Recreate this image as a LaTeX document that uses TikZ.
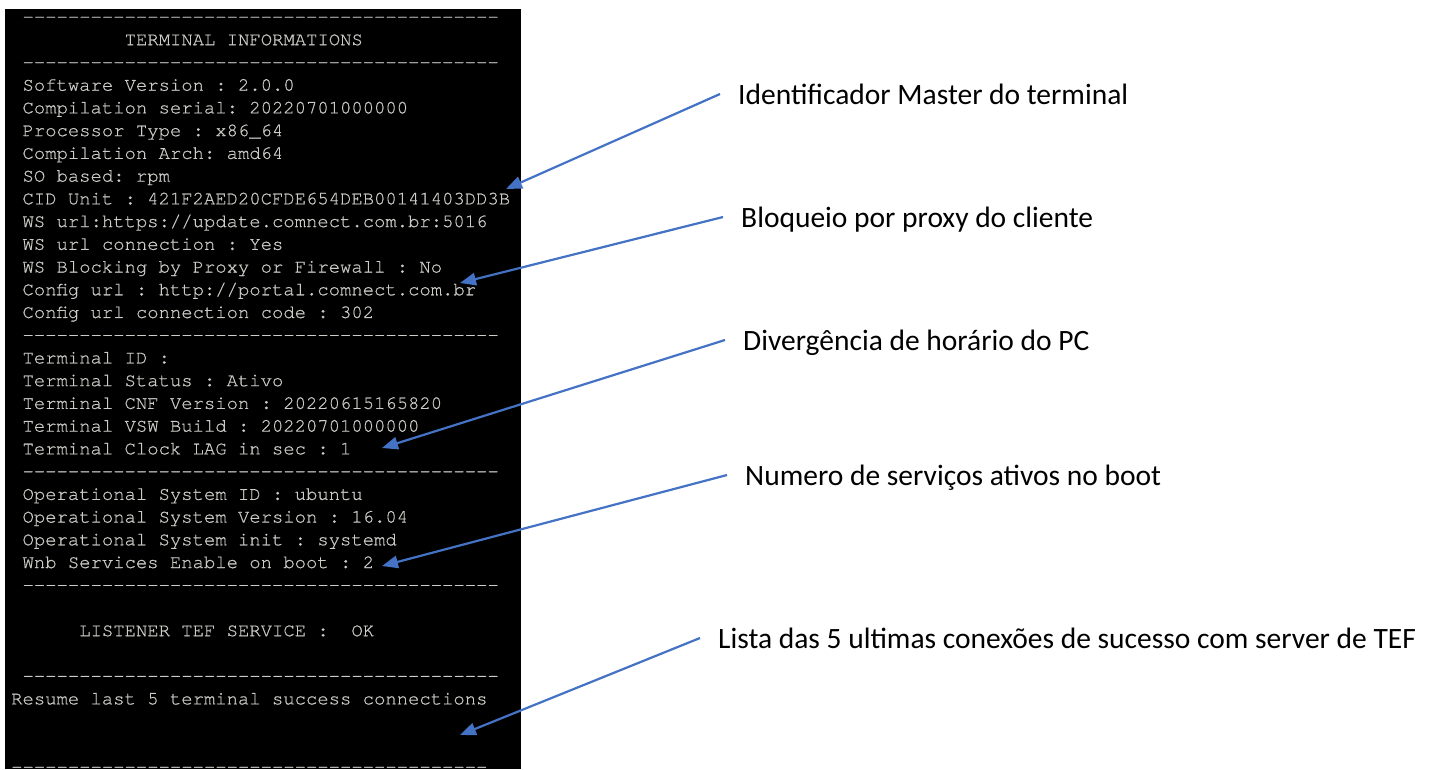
\documentclass[tikz,border=0pt]{standalone}
\usepackage{fontspec}
\setmainfont{Carlito}
\setmonofont{TeX Gyre Cursor}[FakeBold=0.6]
\usetikzlibrary{arrows.meta}

\tikzset{
  term/.style={anchor=base west, inner sep=0pt, text={rgb,255:red,205;green,205;blue,200}, font=\ttfamily\frenchspacing\fontsize{18.9}{22}\selectfont},
  lbl/.style={anchor=west, inner xsep=18pt, inner ysep=0pt, text height=20pt, text depth=0pt, font=\fontsize{29.5}{34}\selectfont},
  callout/.style={draw={rgb,255:red,68;green,114;blue,196}, line width=2.2pt, -{Triangle[length=16pt,width=12.5pt]}},
}

\begin{document}
\begin{tikzpicture}[x=1pt,y=1pt,yscale=-1,xscale=1]
\useasboundingbox [fill=white] (0,0) rectangle (1430,769);

%Shape: Rectangle
\fill [black] (5,9) rectangle (521,769);

\begin{scope}
\clip (5,9) rectangle (521,769);
% Text Node
\draw (22.35,22.5) node [term] (sepa) {------------------------------------------};
% Text Node
\draw (124.5,45.23) node [term] (hdr) {TERMINAL INFORMATIONS};
% Text Node
\draw (22.35,67.96) node [term] (sepb) {------------------------------------------};
% Text Node
\draw (22.35,90.69) node [term] (swver) {Software Version : 2.0.0};
% Text Node
\draw (22.35,113.42) node [term] (cserial) {Compilation serial: 20220701000000};
% Text Node
\draw (22.35,136.15) node [term] (ptype) {Processor Type : x86\_64};
% Text Node
\draw (22.35,158.88) node [term] (carch) {Compilation Arch: amd64};
% Text Node
\draw (22.35,181.61) node [term] (sobase) {SO based: rpm};
% Text Node
\draw (22.35,204.34) node [term] (cid) {CID Unit : 421F2AED20CFDE654DEB00141403DD3B};
% Text Node
\draw (22.35,227.07) node [term] (wsurl) {WS url:https://update.comnect.com.br:5016};
% Text Node
\draw (22.35,249.8) node [term] (wsconn) {WS url connection : Yes};
% Text Node
\draw (22.35,272.53) node [term] (wsblock) {WS Blocking by Proxy or Firewall : No};
% Text Node
\draw (22.35,295.26) node [term] (cfgurl) {Config url : http://portal.comnect.com.br};
% Text Node
\draw (22.35,317.99) node [term] (cfgcode) {Config url connection code : 302};
% Text Node
\draw (22.35,340.72) node [term] (sepc) {------------------------------------------};
% Text Node
\draw (22.35,363.45) node [term] (termid) {Terminal ID :};
% Text Node
\draw (22.35,386.18) node [term] (tstatus) {Terminal Status : Ativo};
% Text Node
\draw (22.35,408.91) node [term] (tcnf) {Terminal CNF Version : 20220615165820};
% Text Node
\draw (22.35,431.64) node [term] (tvsw) {Terminal VSW Build : 20220701000000};
% Text Node
\draw (22.35,454.37) node [term] (tclock) {Terminal Clock LAG in sec : 1};
% Text Node
\draw (22.35,477.1) node [term] (sepd) {------------------------------------------};
% Text Node
\draw (22.35,499.83) node [term] (osid) {Operational System ID : ubuntu};
% Text Node
\draw (22.35,522.56) node [term] (osver) {Operational System Version : 16.04};
% Text Node
\draw (22.35,545.29) node [term] (osinit) {Operational System init : systemd};
% Text Node
\draw (22.35,568.02) node [term] (wnbboot) {Wnb Services Enable on boot : 2};
% Text Node
\draw (22.35,590.75) node [term] (sepe) {------------------------------------------};
% Text Node
\draw (79.1,636.21) node [term] (listener) {LISTENER TEF SERVICE :~ OK};
% Text Node
\draw (22.35,681.67) node [term] (sepf) {------------------------------------------};
% Text Node
\draw (11,704.4) node [term] (resume) {Resume last 5 terminal success connections};
% Text Node
\draw (11,772.59) node [term] (sepg) {------------------------------------------};
\end{scope}

% Text Node
\draw (720,94) node [lbl] (master) {Identificador Master do terminal};
% Text Node
\draw (723,217) node [lbl] (proxy) {Bloqueio por proxy do cliente};
% Text Node
\draw (725,340) node [lbl] (clock) {Divergência de horário do PC};
% Text Node
\draw (727,475) node [lbl] (boot) {Numero de serviços ativos no boot};
% Text Node
\draw (700,638) node [lbl] (lastconn) {Lista das 5 ultimas conexões de sucesso com server de TEF};

\coordinate (tipmaster) at (506,189);
\coordinate (tipproxy) at (460,283);
\coordinate (tipclock) at (382,448);
\coordinate (tipboot) at (382,566);
\coordinate (tiplastconn) at (460,735);

%Straight Lines
\draw [callout] (master.west) -- (tipmaster);
%Straight Lines
\draw [callout] (proxy.west) -- (tipproxy);
%Straight Lines
\draw [callout] (clock.west) -- (tipclock);
%Straight Lines
\draw [callout] (boot.west) -- (tipboot);
%Straight Lines
\draw [callout] (lastconn.west) -- (tiplastconn);

\end{tikzpicture}
\end{document}
